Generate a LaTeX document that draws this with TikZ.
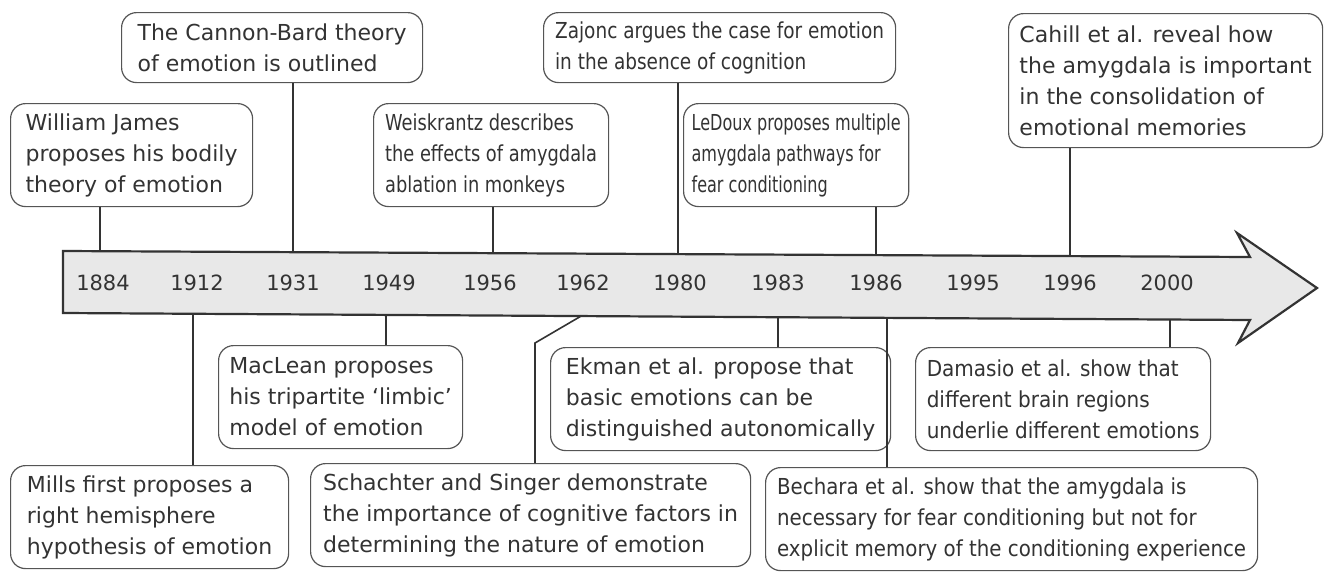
\documentclass[tikz,border=0pt]{standalone}
\usepackage{fontspec}
\setmainfont{DejaVu Sans}
\definecolor{ink}{HTML}{333333}
\definecolor{boxline}{HTML}{555555}
\definecolor{barfill}{HTML}{E8E8E8}
\begin{document}
\begin{tikzpicture}[x=1pt,y=-1pt,
  event/.style={draw=boxline, line width=1.2pt, rounded corners=15pt, fill=white,
    text=ink, align=left, anchor=north west, inner xsep=8pt, inner ysep=0pt,
    font=\fontsize{22}{31}\selectfont},
  squeeze/.style={font=\fontsize{22}{31}\selectfont\addfontfeatures{FakeStretch=#1}},
  two/.style={minimum height=70pt},
  three/.style={minimum height=103pt},
  four/.style={minimum height=134pt},
  link/.style={draw=ink, line width=1.6pt},
  year/.style={text=ink, font=\fontsize{21}{25}\selectfont},
  timebar/.style={draw=ink, line width=2.2pt, fill=barfill, line join=miter}]
\useasboundingbox (0,0) rectangle (1337,573);

% points inside the bar where the connectors end
\coordinate (cJ)  at (100,285);
\coordinate (cMi) at (193,285);
\coordinate (cC)  at (293,285);
\coordinate (cM)  at (386,285);
\coordinate (cW)  at (493,285);
\coordinate (cS)  at (600,305);
\coordinate (sbend) at (535,343);
\coordinate (cZ)  at (678,285);
\coordinate (cE)  at (778,285);
\coordinate (cL)  at (876,285);
\coordinate (cB)  at (887,285);
\coordinate (cCa) at (1070,285);
\coordinate (cD)  at (1170,285);

% event boxes above the bar
\node[event,three,minimum width=242pt] (james)  at (10,103)  {William James\\proposes his bodily\\theory of emotion};
\node[event,two,minimum width=301pt]   (cannon) at (121,12)  {The Cannon-Bard theory\\of emotion is outlined};
\node[event,three,minimum width=235pt,squeeze=0.81] (weisk)  at (373,103) {Weiskrantz describes\\the effects of amygdala\\ablation in monkeys};
\node[event,two,minimum width=352pt,squeeze=0.84]   (zajonc) at (543,12)  {Zajonc argues the case for emotion\\in the absence of cognition};
\node[event,three,minimum width=222pt,squeeze=0.73] (ledoux) at (683,103) {LeDoux proposes multiple\\amygdala pathways for\\fear conditioning};
\node[event,four,minimum width=314pt]  (cahill) at (1008,13) {Cahill et al. reveal how\\the amygdala is important\\in the consolidation of\\emotional memories};

% event boxes below the bar
\node[event,three,minimum width=244pt] (maclean)   at (218,345) {MacLean proposes\\his tripartite ‘limbic’\\model of emotion};
\node[event,three,minimum width=340pt] (ekman)     at (550,347) {Ekman et al. propose that\\basic emotions can be\\distinguished autonomically};
\node[event,three,minimum width=295pt,squeeze=0.91] (damasio)   at (915,347) {Damasio et al. show that\\different brain regions\\underlie different emotions};
\node[event,three,minimum width=278pt] (mills)     at (10,465)  {Mills first proposes a\\right hemisphere\\hypothesis of emotion};
\node[event,three,minimum width=440pt] (schachter) at (310,463) {Schachter and Singer demonstrate\\the importance of cognitive factors in\\determining the nature of emotion};
\node[event,three,minimum width=492pt,squeeze=0.9] (bechara)   at (765,467) {Bechara et al. show that the amygdala is\\necessary for fear conditioning but not for\\explicit memory of the conditioning experience};

% connectors, drawn before the bar so that it covers their ends
\draw[link] (james.south -| cJ) -- (cJ);
\draw[link] (cannon.south -| cC) -- (cC);
\draw[link] (weisk.south -| cW) -- (cW);
\draw[link] (zajonc.south -| cZ) -- (cZ);
\draw[link] (ledoux.south -| cL) -- (cL);
\draw[link] (cahill.south -| cCa) -- (cCa);
\draw[link] (maclean.north -| cM) -- (cM);
\draw[link] (ekman.north -| cE) -- (cE);
\draw[link] (damasio.north -| cD) -- (cD);
\draw[link] (mills.north -| cMi) -- (cMi);
\draw[link] (schachter.north -| sbend) -- (sbend) -- (cS);
\draw[link] (bechara.north -| cB) -- (cB);

% the time arrow
\draw[timebar] (63,251) -- (1250,257) -- (1237,233) -- (1317,288) -- (1238,343) -- (1250,320) -- (63,313) -- cycle;

% years
\node[year] (y1884) at (103,283) {1884};
\node[year] (y1912) at (197,283) {1912};
\node[year] (y1931) at (293,283) {1931};
\node[year] (y1949) at (389,283) {1949};
\node[year] (y1956) at (490,283) {1956};
\node[year] (y1962) at (583,283) {1962};
\node[year] (y1980) at (680,283) {1980};
\node[year] (y1983) at (778,283) {1983};
\node[year] (y1986) at (876,283) {1986};
\node[year] (y1995) at (973,283) {1995};
\node[year] (y1996) at (1070,283) {1996};
\node[year] (y2000) at (1167,283) {2000};
\end{tikzpicture}
\end{document}
